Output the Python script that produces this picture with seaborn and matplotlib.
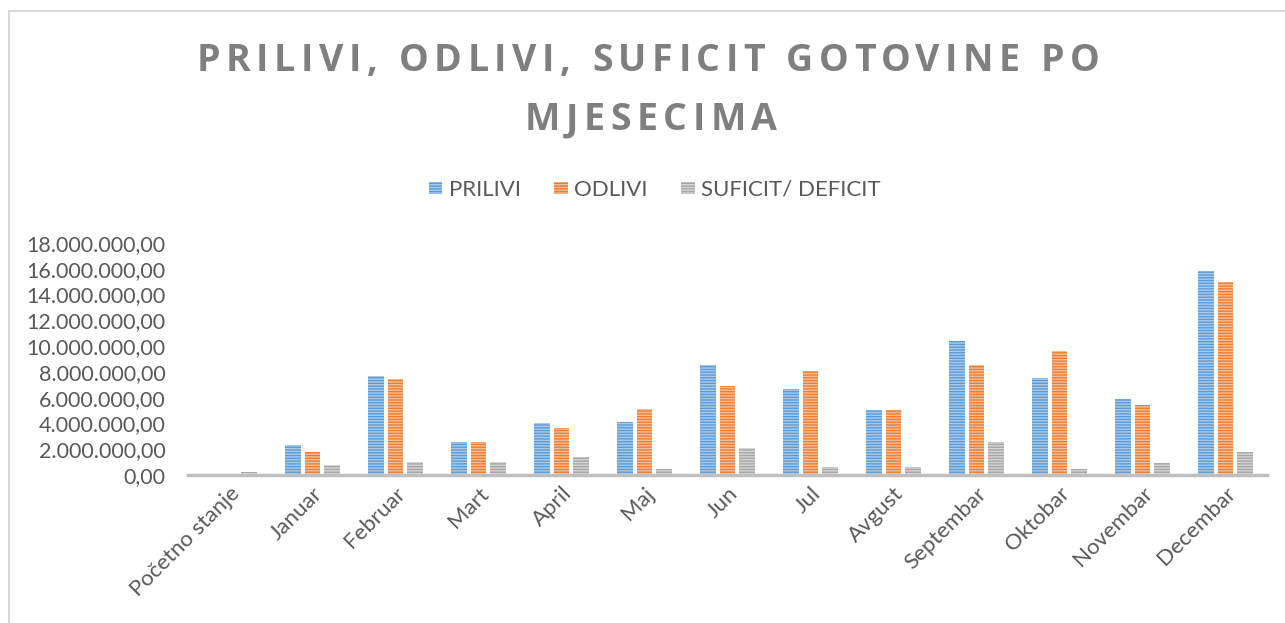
import matplotlib
matplotlib.use("Agg")
import matplotlib.pyplot as plt
from matplotlib.lines import Line2D
import numpy as np
import pandas as pd
import seaborn as sns

mjeseci = ["Početno stanje", "Januar", "Februar", "Mart", "April", "Maj", "Jun",
           "Jul", "Avgust", "Septembar", "Oktobar", "Novembar", "Decembar"]
prilivi = [0, 2330000, 7700000, 2550000, 4000000, 4130000, 8500000,
           6650000, 5050000, 10400000, 7500000, 5900000, 15800000]
odlivi = [0, 1800000, 7450000, 2550000, 3650000, 5100000, 6900000,
          8050000, 5050000, 8500000, 9600000, 5430000, 14950000]
suficit = [200000, 800000, 1000000, 1000000, 1400000, 460000, 2100000,
           650000, 650000, 2550000, 450000, 930000, 1760000]
serije = ["PRILIVI", "ODLIVI", "SUFICIT/ DEFICIT"]
naslov = ["PRILIVI, ODLIVI, SUFICIT GOTOVINE PO", "MJESECIMA"]

boje = ["#5B9BD5", "#ED7D31", "#A5A5A5"]
svijetle = ["#A9CBEB", "#F6BE98", "#D6D6D6"]
siva_tekst = "#595959"
W, H = 1285, 623

df = pd.DataFrame({"mjesec": mjeseci * 3,
                   "serija": [s for s in serije for _ in mjeseci],
                   "iznos": prilivi + odlivi + suficit})

sns.set_style("white")
plt.rcParams['font.family'] = ['Lato', 'DejaVu Sans']
plt.rcParams['hatch.linewidth'] = 1.0

fig = plt.figure(figsize=(W/100, H/100), dpi=100)
ax = fig.add_axes([188/W, 1-475/H, (1267-188)/W, (475-243)/H])

sns.barplot(data=df, x="mjesec", y="iznos", hue="serija", order=mjeseci,
            hue_order=serije, palette=boje, width=0.72, gap=0.2,
            saturation=1, ax=ax, legend=False)

for cont, svj in zip(ax.containers, svijetle):
    for p in cont.patches:
        p.set_hatch("------")
        p.set_edgecolor(svj)
        p.set_linewidth(0)

ax.set_ylim(0, 18000000)
ax.set_xlim(-0.5, len(mjeseci) - 0.5)
yt = np.arange(0, 18000001, 2000000)
ax.set_yticks(yt)
ax.set_yticklabels([f"{v:,.2f}".replace(",", "X").replace(".", ",").replace("X", ".") for v in yt])
ax.tick_params(axis="y", labelsize=15.5, colors=siva_tekst, length=0, pad=16)
ax.tick_params(axis="x", labelsize=16, colors=siva_tekst, length=0, pad=6)
for lab in ax.get_xticklabels():
    lab.set_rotation(45)
    lab.set_ha("right")
    lab.set_rotation_mode("anchor")
ax.set_xlabel("")
ax.set_ylabel("")
for s in ["top", "right", "left"]:
    ax.spines[s].set_visible(False)
ax.spines["bottom"].set_color("#BFBFBF")
ax.spines["bottom"].set_linewidth(2.5)

# naslov sa razmakom izmedju slova (kao u Excelu)
r = fig.canvas.get_renderer()
def sirina(s, **kw):
    t = fig.text(0, 0, s + "|", **kw)
    w = t.get_window_extent(r).width
    t.remove()
    t = fig.text(0, 0, "|", **kw)
    w -= t.get_window_extent(r).width
    t.remove()
    return w

kw = dict(fontsize=27, fontweight="bold", color="#7F7F7F", family=["Open Sans", "DejaVu Sans"])
razmak = (903 - sirina(naslov[0], **kw)) / (len(naslov[0]) - 1)
for red, (cx, cy) in zip(naslov, [(648, 61), (651, 120)]):
    ukupno = sirina(red, **kw) + razmak * (len(red) - 1)
    x0 = cx - ukupno / 2
    for i, ch in enumerate(red):
        x = x0 + sirina(red[:i], **kw) + razmak * i
        fig.text(x / W, 1 - cy / H, ch, ha="left", va="center", **kw)

leg = fig.legend(ax.containers, serije, loc="center", bbox_to_anchor=(655/W, 1-190/H),
                 ncol=3, frameon=False, fontsize=16, handlelength=0.6, handleheight=0.5,
                 handletextpad=0.3, columnspacing=1.5)
for t in leg.get_texts():
    t.set_color(siva_tekst)

# okvir grafikona (vidljiv samo lijevo i gore)
fig.add_artist(Line2D([8.5/W, 8.5/W], [0, 1-11/H], transform=fig.transFigure, color="#D9D9D9", lw=1.5))
fig.add_artist(Line2D([8.5/W, 1], [1-11/H, 1-11/H], transform=fig.transFigure, color="#D9D9D9", lw=1.5))

fig.savefig("out.png", dpi=100)
